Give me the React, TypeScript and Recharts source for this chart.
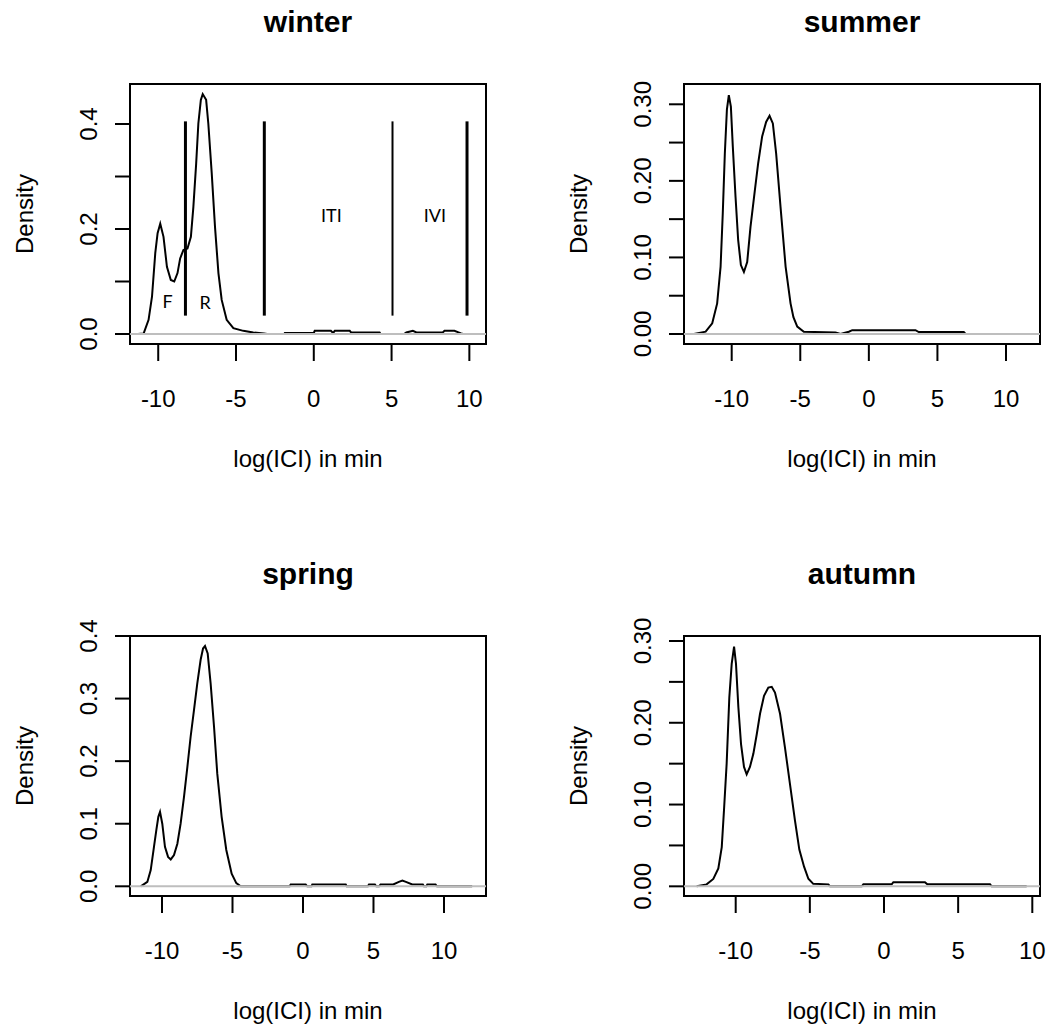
import React from 'react';
import { LineChart, Line, XAxis, YAxis, ReferenceLine, ReferenceArea, ReferenceDot } from 'recharts';

// ---------- data ----------
const xTicks = [-10, -5, 0, 5, 10];

const winterX = [-11.3, -10.94, -10.62, -10.4, -10.19, -10.04, -9.87, -9.66, -9.44, -9.19, -8.97, -8.76, -8.59, -8.38, -8.12, -7.9, -7.74, -7.56, -7.42, -7.26, -7.14, -6.92, -6.78, -6.56, -6.35, -6.13, -5.92, -5.6, -5.17, -4.53, -3.89, -3.2, -3.0, -1.9, -1.86, 0.0, 0.06, 1.1, 1.24, 1.35, 2.31, 2.4, 4.23, 4.3, 5.8, 5.95, 6.37, 6.6, 8.29, 8.4, 9.04, 9.3, 9.47, 9.6, 10.5];
const winterY = [0, 0.001, 0.027, 0.071, 0.154, 0.192, 0.21, 0.185, 0.128, 0.103, 0.1, 0.116, 0.144, 0.16, 0.163, 0.185, 0.242, 0.325, 0.401, 0.446, 0.457, 0.446, 0.401, 0.306, 0.204, 0.116, 0.065, 0.027, 0.011, 0.006, 0.003, 0.001, 0, 0, 0.002, 0.002, 0.006, 0.006, 0.002, 0.006, 0.006, 0.003, 0.003, 0, 0, 0.003, 0.006, 0.003, 0.003, 0.006, 0.006, 0.003, 0.001, 0, 0];

const summerX = [-12.75, -11.9, -11.42, -11.06, -10.81, -10.65, -10.5, -10.35, -10.21, -10.06, -9.92, -9.72, -9.53, -9.33, -9.11, -8.87, -8.63, -8.31, -8.07, -7.78, -7.49, -7.24, -7.0, -6.76, -6.44, -6.07, -5.71, -5.5, -5.22, -4.74, -2.43, -2.07, -1.46, -1.21, 3.4, 3.64, 6.92, 7.05, 11.4];
const summerY = [0, 0.003, 0.014, 0.04, 0.088, 0.158, 0.236, 0.293, 0.312, 0.297, 0.245, 0.179, 0.123, 0.09, 0.081, 0.094, 0.14, 0.188, 0.223, 0.258, 0.277, 0.285, 0.275, 0.236, 0.166, 0.088, 0.04, 0.022, 0.0096, 0.003, 0.002, 0, 0.003, 0.005, 0.005, 0.0026, 0.0026, 0, 0];

const springX = [-11.51, -11.04, -10.8, -10.57, -10.4, -10.26, -10.14, -9.98, -9.79, -9.57, -9.38, -9.15, -8.91, -8.68, -8.44, -8.2, -7.97, -7.73, -7.5, -7.26, -7.09, -6.95, -6.76, -6.55, -6.31, -6.08, -5.77, -5.44, -5.06, -4.73, -4.42, -0.95, -0.87, 0.19, 0.3, 0.6, 0.66, 3.03, 3.1, 4.6, 4.68, 5.1, 5.2, 5.4, 5.5, 6.4, 6.8, 7.05, 7.3, 7.75, 8.5, 8.58, 8.75, 8.82, 9.4, 9.5, 12.0];
const springY = [0, 0.007, 0.026, 0.063, 0.09, 0.111, 0.119, 0.1, 0.063, 0.047, 0.043, 0.05, 0.068, 0.1, 0.143, 0.191, 0.239, 0.282, 0.324, 0.362, 0.38, 0.384, 0.372, 0.324, 0.255, 0.18, 0.111, 0.058, 0.02, 0.005, 0, 0, 0.003, 0.003, 0, 0, 0.003, 0.003, 0, 0, 0.003, 0.003, 0, 0, 0.003, 0.003, 0.007, 0.009, 0.007, 0.003, 0.003, 0, 0, 0.003, 0.003, 0, 0];

const autumnX = [-12.63, -11.96, -11.51, -11.17, -10.94, -10.79, -10.61, -10.43, -10.27, -10.11, -9.98, -9.82, -9.64, -9.44, -9.26, -9.04, -8.81, -8.58, -8.36, -8.09, -7.8, -7.57, -7.35, -7.01, -6.68, -6.34, -6.0, -5.71, -5.39, -5.1, -4.77, -3.75, -3.64, -1.5, -1.39, 0.52, 0.63, 2.76, 2.92, 7.15, 7.26, 9.62];
const autumnY = [0, 0.0024, 0.009, 0.022, 0.048, 0.093, 0.15, 0.231, 0.272, 0.293, 0.272, 0.219, 0.174, 0.146, 0.137, 0.146, 0.162, 0.186, 0.211, 0.233, 0.243, 0.244, 0.237, 0.211, 0.17, 0.125, 0.08, 0.045, 0.024, 0.0093, 0.003, 0.0024, 0, 0, 0.0024, 0.0024, 0.005, 0.005, 0.0024, 0.0024, 0, 0];

const winterYTicks = [0, 0.1, 0.2, 0.3, 0.4];
const winterYLabels = ['0.0', '', '0.2', '', '0.4'];
const summerYTicks = [0, 0.05, 0.1, 0.15, 0.2, 0.25, 0.3];
const summerYLabels = ['0.00', '', '0.10', '', '0.20', '', '0.30'];
const springYTicks = [0, 0.1, 0.2, 0.3, 0.4];
const springYLabels = ['0.0', '0.1', '0.2', '0.3', '0.4'];
const autumnYTicks = [0, 0.05, 0.1, 0.15, 0.2, 0.25, 0.3];
const autumnYLabels = ['0.00', '', '0.10', '', '0.20', '', '0.30'];

const titles = ['winter', 'summer', 'spring', 'autumn'];
const xLabel = 'log(ICI) in min';
const yLabel = 'Density';

// winter annotations
const cutX = [-8.25, -3.18, 5.06, 9.85];
const cutLow = 0.035;
const cutHigh = 0.405;
const annoText = ['F', 'R', 'ITI', 'IVI'];
const annoX = [-9.39, -6.99, 1.13, 7.78];
const annoY = [0.049, 0.047, 0.214, 0.214];

// ---------- layout ----------
const cutWidths = [3, 3, 2, 3];
const FONT = '"Liberation Sans", Arial, Helvetica, sans-serif';
const PW = 525;
const PH = 515;
const YW = 60;
const XH = 60;

type PanelCfg = {
  title: string;
  xs: number[];
  ys: number[];
  xDomain: [number, number];
  yDomain: [number, number];
  yTicks: number[];
  yLabels: string[];
  left: number;
  top: number;
  box: { l: number; r: number; t: number; b: number };
  annotate?: boolean;
};

const panels: PanelCfg[] = [
  { title: titles[0], xs: winterX, ys: winterY, xDomain: [-11.814, 11.07], yDomain: [-0.01905, 0.4762], yTicks: winterYTicks, yLabels: winterYLabels, left: 0, top: 0, box: { l: 130, r: 486, t: 84, b: 344 }, annotate: true },
  { title: titles[1], xs: summerX, ys: summerY, xDomain: [-13.478, 12.479], yDomain: [-0.01306, 0.3265], yTicks: summerYTicks, yLabels: summerYLabels, left: 525, top: 0, box: { l: 684, r: 1040, t: 84, b: 344 } },
  { title: titles[2], xs: springX, ys: springY, xDomain: [-12.27, 12.98], yDomain: [-0.0155, 0.4], yTicks: springYTicks, yLabels: springYLabels, left: 0, top: 515, box: { l: 130, r: 486, t: 636, b: 896 } },
  { title: titles[3], xs: autumnX, ys: autumnY, xDomain: [-13.486, 10.519], yDomain: [-0.01183, 0.3061], yTicks: autumnYTicks, yLabels: autumnYLabels, left: 525, top: 515, box: { l: 684, r: 1040, t: 636, b: 896 } },
];

function Panel({ p }: { p: PanelCfg }) {
  const bl = p.box.l - p.left;
  const br = p.box.r - p.left;
  const bt = p.box.t - p.top;
  const bb = p.box.b - p.top;
  const margin = { top: bt, right: PW - br, bottom: PH - bb - XH, left: bl - YW };
  const data = p.xs.map((x, i) => ({ x, y: p.ys[i] }));

  const XTick = (props: any) => (
    <text x={props.x} y={bb + 63} textAnchor="middle" fontSize={24} fill="#000" fontFamily={FONT}>
      {String(props.payload.value)}
    </text>
  );
  const YTick = (props: any) => {
    const idx = p.yTicks.findIndex((t) => Math.abs(t - props.payload.value) < 1e-9);
    const lab = idx >= 0 ? p.yLabels[idx] : '';
    if (!lab) return <g />;
    const tx = bl - 33;
    return (
      <text x={tx} y={props.y} transform={`rotate(-90 ${tx} ${props.y})`} textAnchor="middle" fontSize={24} fill="#000" fontFamily={FONT}>
        {lab}
      </text>
    );
  };

  return (
    <div style={{ position: 'absolute', left: p.left, top: p.top, width: PW, height: PH }}>
      <LineChart width={PW} height={PH} data={data} margin={margin}>
        <XAxis
          dataKey="x"
          type="number"
          domain={p.xDomain}
          allowDataOverflow
          ticks={xTicks}
          interval={0}
          height={XH}
          tickSize={17}
          axisLine={false}
          tickLine={{ stroke: '#000', strokeWidth: 2 }}
          tick={XTick}
        />
        <YAxis
          type="number"
          domain={p.yDomain}
          allowDataOverflow
          ticks={p.yTicks}
          interval={0}
          width={YW}
          tickSize={15}
          axisLine={false}
          tickLine={{ stroke: '#000', strokeWidth: 2 }}
          tick={YTick}
        />
        <Line type="linear" dataKey="y" stroke="#000" strokeWidth={2} dot={false} activeDot={false} isAnimationActive={false} />
        <ReferenceLine y={0} stroke="#bebebe" strokeWidth={2} />
        {p.annotate &&
          cutX.map((cx, i) => (
            <ReferenceLine
              key={'c' + i}
              segment={[{ x: cx, y: cutLow }, { x: cx, y: cutHigh }]}
              stroke="#000"
              strokeWidth={cutWidths[i]}
              ifOverflow="visible"
            />
          ))}
        {p.annotate &&
          annoText.map((t, i) => (
            <ReferenceDot
              key={'a' + i}
              x={annoX[i]}
              y={annoY[i]}
              r={0}
              ifOverflow="visible"
              shape={(sp: any) => (
                <text x={sp.cx} y={sp.cy} textAnchor="middle" fontSize={18} fill="#000" fontFamily="Lato, 'Open Sans', sans-serif">
                  {t}
                </text>
              )}
            />
          ))}
        <ReferenceArea
          x1={p.xDomain[0]}
          x2={p.xDomain[1]}
          y1={p.yDomain[0]}
          y2={p.yDomain[1]}
          fill="none"
          fillOpacity={0}
          stroke="#000"
          strokeWidth={2}
          ifOverflow="visible"
        />
      </LineChart>
    </div>
  );
}

export default function App() {
  return (
    <div style={{ position: 'absolute', left: 0, top: 0, width: 1050, height: 1030, background: '#fff', fontFamily: FONT, overflow: 'hidden' }}>
      {panels.map((p, i) => (
        <Panel key={i} p={p} />
      ))}
      <svg width={1050} height={1030} style={{ position: 'absolute', left: 0, top: 0, pointerEvents: 'none' }}>
        {panels.map((p, i) => {
          const cx = (p.box.l + p.box.r) / 2;
          const cy = (p.box.t + p.box.b) / 2;
          const ylx = p.box.l - 97.5;
          return (
            <g key={i} fontFamily={FONT} fill="#000">
              <text x={cx} y={p.box.t - 52} textAnchor="middle" fontSize={30} fontWeight="bold">
                {p.title}
              </text>
              <text x={cx} y={p.box.b + 123} textAnchor="middle" fontSize={24}>
                {xLabel}
              </text>
              <text x={ylx} y={cy} transform={`rotate(-90 ${ylx} ${cy})`} textAnchor="middle" fontSize={24}>
                {yLabel}
              </text>
            </g>
          );
        })}
      </svg>
    </div>
  );
}
